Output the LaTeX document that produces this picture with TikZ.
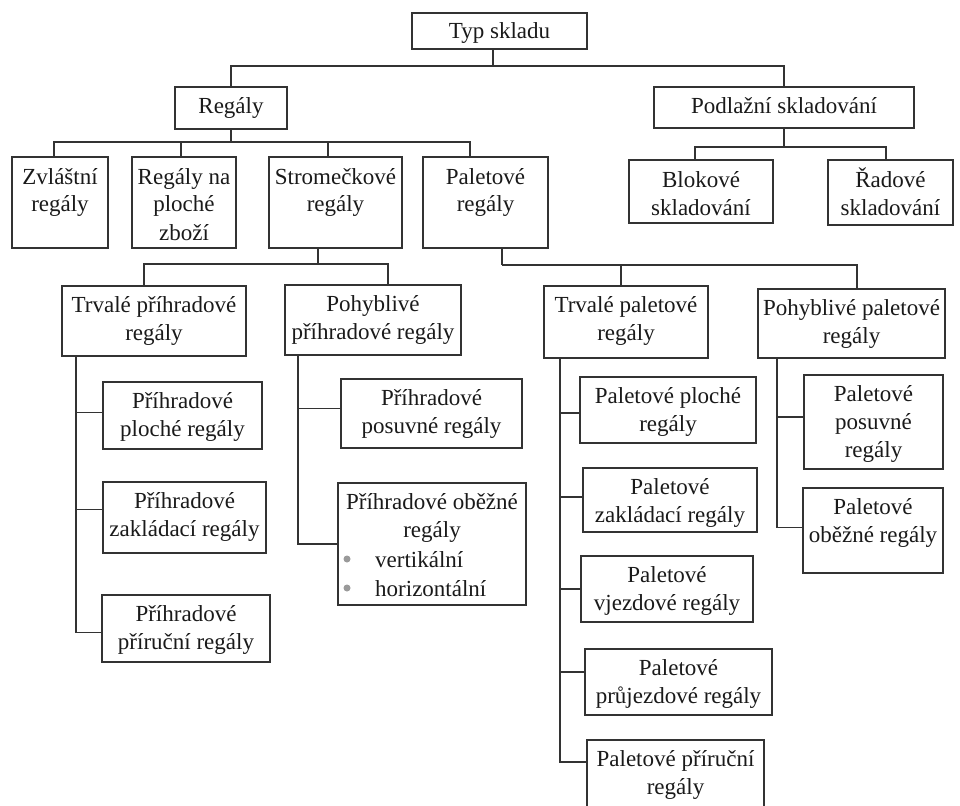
\documentclass[tikz,border=0pt]{standalone}
\usepackage{fontspec}
\setmainfont{Liberation Serif}
\newfontfamily\timesfont{Liberation Serif}
\definecolor{linec}{HTML}{333333}
\definecolor{textc}{HTML}{1A1A1A}
\definecolor{bulc}{HTML}{9A9A9A}
\tikzset{
  box/.style={draw=linec, line width=1.6pt, inner sep=0pt, rectangle},
  txt/.style={inner sep=0pt, text=textc, font=\timesfont\fontsize{23}{28}\selectfont},
  conn/.style={draw=linec, line width=1.6pt},
  dot/.style={circle, fill=bulc, inner sep=0pt, minimum size=7pt},
}
\newcommand\bx[7][26]{%
  \node[box, minimum width={#5-#3}, minimum height={#6-#4}] (#2) at ({(#3+#5)/2},{(#4+#6)/2}) {};
  \node[txt, anchor=base] (#2-t) at ({(#3+#5)/2},{#4+#1}) {\begin{tabular}[t]{@{}c@{}}#7\end{tabular}};
}
\begin{document}
\begin{tikzpicture}[x=1pt,y=-1pt]
\useasboundingbox (0,0) rectangle (960,805);
\fill[white] (0,0) rectangle (960,805);

% level 0-1
\bx{typ}{412}{13}{587}{49}{Typ skladu}
\bx[27]{reg}{175}{87}{287}{129}{Regály}
\bx[27]{pod}{654}{87}{914}{128}{Podlažní skladování}

% level 2
\bx[27]{zvl}{12}{157}{108}{248}{Zvláštní\\regály}
\bx[27]{rnp}{132}{157}{236}{248}{Regály na\\ploché\\zboží}
\bx[27]{str}{269}{157}{402}{248}{Stromečkové\\regály}
\bx[27]{pal}{423}{157}{548}{248}{Paletové\\regály}
\bx[27]{blk}{629}{160}{773}{223}{Blokové\\skladování}
\bx[27]{rad}{828}{160}{953}{225}{Řadové\\skladování}

% level 3
\bx{tpr}{62}{286}{246}{356}{Trvalé příhradové\\regály}
\bx{ppr}{285}{285}{461}{355}{Pohyblivé\\příhradové regály}
\bx{tpa}{544}{286}{708}{358}{Trvalé paletové\\regály}
\bx{ppa}{758}{289}{945}{358}{Pohyblivé paletové\\regály}

% level 4
\bx{pp1}{103}{382}{262}{449}{Příhradové\\ploché regály}
\bx{pp2}{103}{482}{266}{553}{Příhradové\\zakládací regály}
\bx{pp3}{102}{595}{270}{662}{Příhradové\\příruční regály}
\bx{pp4}{341}{379}{522}{448}{Příhradové\\posuvné regály}
\bx{pp5}{338}{483}{526}{605}{Příhradové oběžné\\regály}
\node[dot] (d1) at (347,559) {};
\node[dot] (d2) at (347,588) {};
\node[txt, anchor=base west] (b1) at (375,567) {vertikální};
\node[txt, anchor=base west] (b2) at (375,596) {horizontální};

\bx{pa1}{580}{377}{756}{443}{Paletové ploché\\regály}
\bx{pa2}{583}{468}{757}{532}{Paletové\\zakládací regály}
\bx{pa3}{581}{556}{753}{622}{Paletové\\vjezdové regály}
\bx{pa4}{585}{649}{772}{715}{Paletové\\průjezdové regály}
\bx{pa5}{587}{740}{764}{810}{Paletové příruční\\regály}
\bx{pb1}{804}{375}{943}{469}{Paletové\\posuvné\\regály}
\bx{pb2}{803}{488}{943}{573}{Paletové\\oběžné regály}

% connectors
\draw[conn] ([xshift=-6.5pt]typ.south) -- ++(0,16) coordinate (j0);
\draw[conn] (reg.north) |- (j0) -| (pod.north);

\draw[conn] (reg.south) -- ++(0,12) coordinate (j1);
\draw[conn] ([xshift=-6pt]zvl.north) |- (j1);
\draw[conn] ([xshift=-3pt]rnp.north) |- (j1);
\draw[conn] ([xshift=-7.5pt]str.north) |- (j1);
\draw[conn] ([xshift=-15.5pt]pal.north) |- (j1);

\draw[conn] (pod.south) -- ++(0,18) coordinate (j2);
\draw[conn] ([xshift=-6pt]blk.north) |- (j2);
\draw[conn] ([xshift=-4.5pt]rad.north) |- (j2);

\draw[conn] ([xshift=-17.5pt]str.south) -- ++(0,15) coordinate (j3);
\draw[conn] ([xshift=-10pt]tpr.north) |- (j3);
\draw[conn] ([xshift=15pt]ppr.north) |- (j3);

\draw[conn] ([xshift=16.5pt]pal.south) -- ++(0,16) coordinate (j4);
\draw[conn] ([xshift=-5pt]tpa.north) |- (j4);
\draw[conn] ([xshift=5.5pt]ppa.north) |- (j4);

\draw[conn] ([xshift=15pt]tpr.south west) |- ([yshift=3pt]pp1.west);
\draw[conn] ([xshift=15pt]tpr.south west) |- ([yshift=8pt]pp2.west);
\draw[conn] ([xshift=15pt]tpr.south west) |- ([yshift=-4pt]pp3.west);

\draw[conn] ([xshift=14pt]ppr.south west) |- ([yshift=5pt]pp4.west);
\draw[conn] ([xshift=14pt]ppr.south west) |- (pp5.west);

\draw[conn] ([xshift=17pt]tpa.south west) |- ([yshift=-3pt]pa1.west);
\draw[conn] ([xshift=17pt]tpa.south west) |- ([yshift=3pt]pa2.west);
\draw[conn] ([xshift=17pt]tpa.south west) |- (pa3.west);
\draw[conn] ([xshift=17pt]tpa.south west) |- ([yshift=10pt]pa4.west);
\draw[conn] ([xshift=17pt]tpa.south west) |- ([yshift=13pt]pa5.west);

\draw[conn] ([xshift=20pt]ppa.south west) |- ([yshift=5pt]pb1.west);
\draw[conn] ([xshift=20pt]ppa.south west) |- ([yshift=3pt]pb2.west);
\end{tikzpicture}
\end{document}
